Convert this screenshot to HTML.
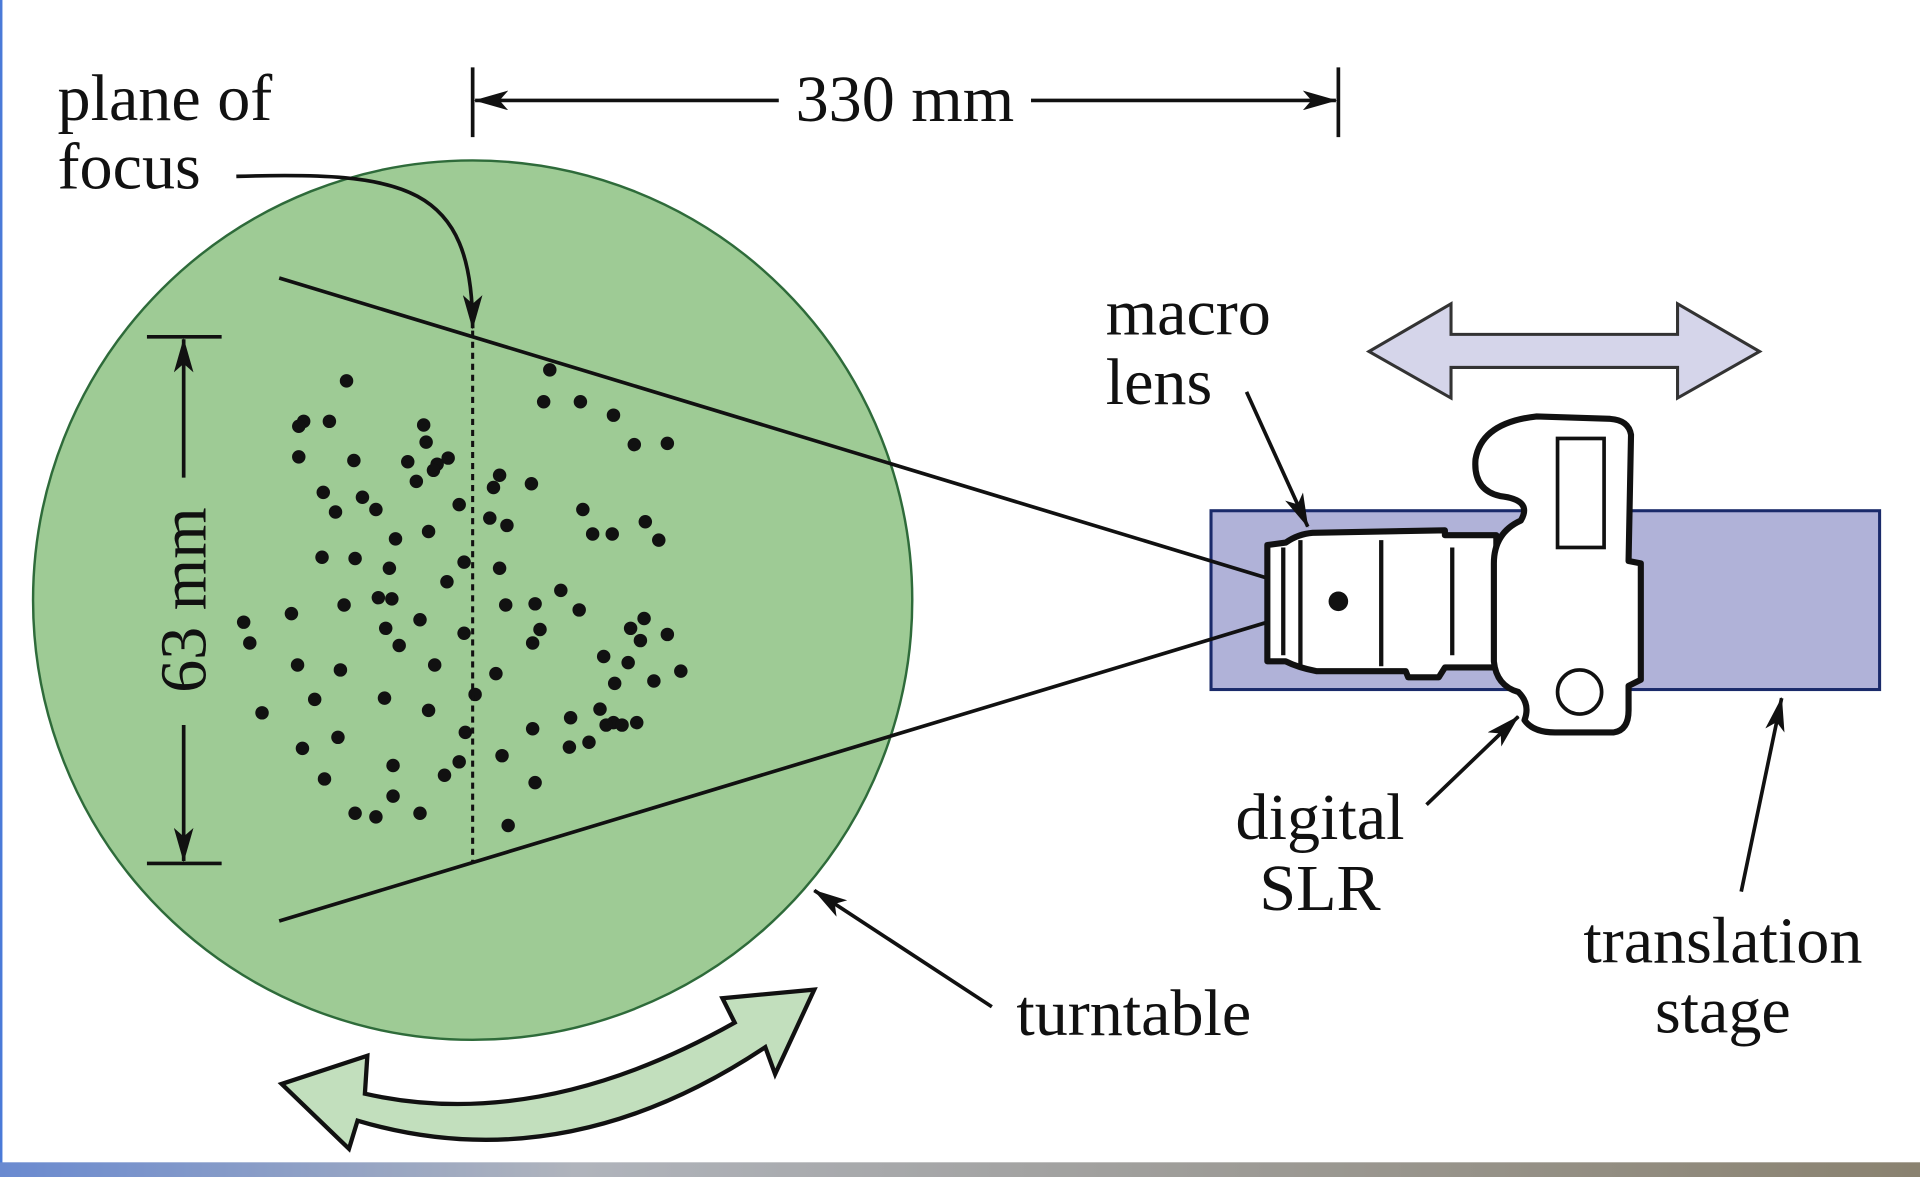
<!DOCTYPE html>
<html><head><meta charset="utf-8"><style>
html,body{margin:0;padding:0;background:#fff;overflow:hidden}
svg{display:block}
text{font-family:"Liberation Serif",serif;fill:#111}
</style></head><body>
<svg width="1920" height="1177" viewBox="0 0 1568 961" preserveAspectRatio="none" xmlns="http://www.w3.org/2000/svg">
<defs>
<marker id="ah" viewBox="0 0 28 16" refX="27" refY="8" markerWidth="28" markerHeight="16" markerUnits="userSpaceOnUse" orient="auto">
<path d="M0,0 L28,8 L0,16 L7,8 Z" fill="#111"/></marker>
<linearGradient id="bot" x1="0" x2="1"><stop offset="0" stop-color="#6a8ad0"/><stop offset="0.3" stop-color="#b0b4bc"/><stop offset="1" stop-color="#8a8270"/></linearGradient>
</defs>
<rect width="1568" height="961" fill="#fff"/>
<rect x="0" y="0" width="2" height="961" fill="#4a7ad8"/>
<rect x="0" y="949" width="1568" height="12" fill="url(#bot)"/>

<circle cx="386" cy="490" r="359" fill="#9ecb95" stroke="#2e6b3a" stroke-width="2"/>

<g fill="#111">
<circle cx="283" cy="311" r="5.5"/><circle cx="248" cy="344" r="5.5"/><circle cx="244" cy="348" r="5.5"/><circle cx="269" cy="344" r="5.5"/><circle cx="244" cy="373" r="5.5"/><circle cx="289" cy="376" r="5.5"/><circle cx="346" cy="347" r="5.5"/><circle cx="348" cy="361" r="5.5"/><circle cx="333" cy="377" r="5.5"/><circle cx="357" cy="379" r="5.5"/><circle cx="366" cy="374" r="5.5"/><circle cx="354" cy="384" r="5.5"/><circle cx="340" cy="393" r="5.5"/><circle cx="449" cy="302" r="5.5"/><circle cx="444" cy="328" r="5.5"/><circle cx="474" cy="328" r="5.5"/><circle cx="501" cy="339" r="5.5"/><circle cx="518" cy="363" r="5.5"/><circle cx="545" cy="362" r="5.5"/><circle cx="264" cy="402" r="5.5"/><circle cx="296" cy="406" r="5.5"/><circle cx="274" cy="418" r="5.5"/><circle cx="307" cy="416" r="5.5"/><circle cx="375" cy="412" r="5.5"/><circle cx="408" cy="388" r="5.5"/><circle cx="403" cy="398" r="5.5"/><circle cx="434" cy="395" r="5.5"/><circle cx="400" cy="423" r="5.5"/><circle cx="414" cy="429" r="5.5"/><circle cx="476" cy="416" r="5.5"/><circle cx="484" cy="436" r="5.5"/><circle cx="500" cy="436" r="5.5"/><circle cx="527" cy="426" r="5.5"/><circle cx="538" cy="441" r="5.5"/><circle cx="323" cy="440" r="5.5"/><circle cx="350" cy="434" r="5.5"/><circle cx="263" cy="455" r="5.5"/><circle cx="290" cy="456" r="5.5"/><circle cx="379" cy="459" r="5.5"/><circle cx="318" cy="464" r="5.5"/><circle cx="408" cy="464" r="5.5"/><circle cx="365" cy="475" r="5.5"/><circle cx="309" cy="488" r="5.5"/><circle cx="320" cy="489" r="5.5"/><circle cx="281" cy="494" r="5.5"/><circle cx="238" cy="501" r="5.5"/><circle cx="343" cy="506" r="5.5"/><circle cx="379" cy="517" r="5.5"/><circle cx="315" cy="513" r="5.5"/><circle cx="326" cy="527" r="5.5"/><circle cx="437" cy="493" r="5.5"/><circle cx="458" cy="482" r="5.5"/><circle cx="473" cy="498" r="5.5"/><circle cx="413" cy="494" r="5.5"/><circle cx="441" cy="514" r="5.5"/><circle cx="435" cy="525" r="5.5"/><circle cx="199" cy="508" r="5.5"/><circle cx="204" cy="525" r="5.5"/><circle cx="526" cy="505" r="5.5"/><circle cx="515" cy="513" r="5.5"/><circle cx="545" cy="518" r="5.5"/><circle cx="523" cy="523" r="5.5"/><circle cx="493" cy="536" r="5.5"/><circle cx="513" cy="541" r="5.5"/><circle cx="243" cy="543" r="5.5"/><circle cx="278" cy="547" r="5.5"/><circle cx="355" cy="543" r="5.5"/><circle cx="405" cy="550" r="5.5"/><circle cx="556" cy="548" r="5.5"/><circle cx="534" cy="556" r="5.5"/><circle cx="502" cy="558" r="5.5"/><circle cx="388" cy="567" r="5.5"/><circle cx="257" cy="571" r="5.5"/><circle cx="314" cy="570" r="5.5"/><circle cx="350" cy="580" r="5.5"/><circle cx="214" cy="582" r="5.5"/><circle cx="466" cy="586" r="5.5"/><circle cx="490" cy="579" r="5.5"/><circle cx="501" cy="590" r="5.5"/><circle cx="495" cy="592" r="5.5"/><circle cx="508" cy="592" r="5.5"/><circle cx="520" cy="590" r="5.5"/><circle cx="481" cy="606" r="5.5"/><circle cx="465" cy="610" r="5.5"/><circle cx="435" cy="595" r="5.5"/><circle cx="380" cy="598" r="5.5"/><circle cx="276" cy="602" r="5.5"/><circle cx="247" cy="611" r="5.5"/><circle cx="410" cy="617" r="5.5"/><circle cx="375" cy="622" r="5.5"/><circle cx="363" cy="633" r="5.5"/><circle cx="321" cy="625" r="5.5"/><circle cx="265" cy="636" r="5.5"/><circle cx="437" cy="639" r="5.5"/><circle cx="321" cy="650" r="5.5"/><circle cx="290" cy="664" r="5.5"/><circle cx="307" cy="667" r="5.5"/><circle cx="343" cy="664" r="5.5"/><circle cx="415" cy="674" r="5.5"/>
</g>

<line x1="386" y1="270" x2="386" y2="705" stroke="#111" stroke-width="2.5" stroke-dasharray="5,4"/>

<rect x="989" y="417" width="546" height="146" fill="#b0b2d8" stroke="#1a2a6a" stroke-width="2.5"/>

<line x1="228" y1="227" x2="1035" y2="472" stroke="#111" stroke-width="3"/>
<line x1="228" y1="752" x2="1035" y2="508" stroke="#111" stroke-width="3"/>

<g stroke="#111" stroke-width="5" fill="#fff" stroke-linejoin="round">
<path d="M1035,445 L1050,443 Q1060,436 1072,435 L1180,433 L1180,437 L1222,437 L1222,545 L1180,545 L1175,553 L1150,553 L1148,548 L1075,548 Q1060,545 1050,540 L1035,540 Z"/>
<path d="M1255,340 Q1210,345 1205,375 Q1203,400 1225,405 Q1252,408 1242,425 Q1220,435 1220,460 L1220,540 Q1222,560 1240,565 Q1250,575 1245,588 Q1252,598 1270,598 L1318,598 Q1330,596 1330,580 L1330,560 L1340,555 L1340,460 L1330,458 L1332,355 Q1330,343 1315,342 Z"/>
</g>
<g stroke="#111" stroke-width="3.5">
<line x1="1048" y1="447" x2="1048" y2="535"/><line x1="1062" y1="441" x2="1062" y2="544"/><line x1="1128" y1="441" x2="1128" y2="544"/><line x1="1186" y1="447" x2="1186" y2="535"/>
</g>
<circle cx="1093" cy="491" r="8" fill="#111"/>
<rect x="1272" y="358" width="38" height="89" fill="#fff" stroke="#111" stroke-width="3"/>
<circle cx="1290" cy="565" r="18" fill="#fff" stroke="#111" stroke-width="3"/>

<polygon points="1118,287 1185,248 1185,273 1370,273 1370,248 1437,287 1370,325 1370,300 1185,300 1185,325" fill="#d5d5ea" stroke="#333" stroke-width="2.5"/>

<path d="M230,885 L300,862 L298,893 Q440,925 600,835 L590,815 L665,808 L633,877 L625,855 Q460,965 292,915 L285,938 Z" fill="#c2dfbd" stroke="#111" stroke-width="3.5" stroke-linejoin="miter"/>

<g stroke="#111" stroke-width="3">
<line x1="386" y1="55" x2="386" y2="112"/><line x1="1093" y1="55" x2="1093" y2="112"/>
<line x1="636" y1="82" x2="388" y2="82" marker-end="url(#ah)"/>
<line x1="842" y1="82" x2="1091" y2="82" marker-end="url(#ah)"/>
<line x1="120" y1="275" x2="181" y2="275"/><line x1="120" y1="705" x2="181" y2="705"/>
<line x1="150" y1="390" x2="150" y2="277" marker-end="url(#ah)"/>
<line x1="150" y1="592" x2="150" y2="703" marker-end="url(#ah)"/>
<path d="M193,144 C330,140 386,150 386,268" fill="none" marker-end="url(#ah)"/>
<line x1="1018" y1="320" x2="1068" y2="430" marker-end="url(#ah)"/>
<line x1="1165" y1="657" x2="1240" y2="585" marker-end="url(#ah)"/>
<line x1="1422" y1="728" x2="1455" y2="570" marker-end="url(#ah)"/>
<line x1="810" y1="822" x2="665" y2="727" marker-end="url(#ah)"/>
</g>

<g font-size="54">
<text x="739" y="99" text-anchor="middle">330 mm</text>
<text x="47" y="98">plane of</text>
<text x="47" y="154">focus</text>
<text x="903" y="273">macro</text>
<text x="903" y="330">lens</text>
<text x="1078" y="685" text-anchor="middle">digital</text>
<text x="1078" y="743" text-anchor="middle">SLR</text>
<text x="1407" y="786" text-anchor="middle">translation</text>
<text x="1407" y="843" text-anchor="middle">stage</text>
<text x="830" y="845">turntable</text>
<text transform="translate(168,490) rotate(-90)" text-anchor="middle">63 mm</text>
</g>
</svg>
</body></html>
